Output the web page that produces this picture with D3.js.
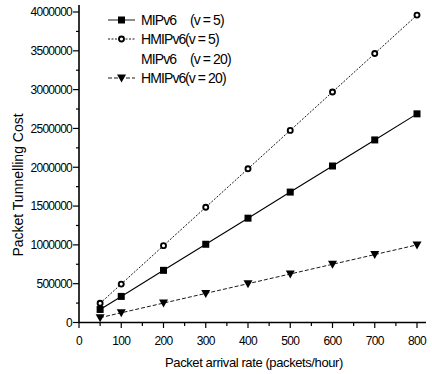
<!DOCTYPE html>
<html><head><meta charset="utf-8">
<script src="https://cdn.jsdelivr.net/npm/d3@7/dist/d3.min.js"></script>
<style>body{margin:0;background:#fff}svg{display:block;font-family:"Liberation Sans",Arial,sans-serif}</style>
</head><body><svg id="c" width="432" height="374"></svg>
<script>
const rates = [50, 100, 200, 300, 400, 500, 600, 700, 800];
const mipv6_v5 = [168000, 336000, 672000, 1008000, 1344000, 1680000, 2016000, 2352000, 2688000];
const hmipv6_v5 = [247500, 495000, 990000, 1485000, 1980000, 2475000, 2970000, 3465000, 3960000];
const hmipv6_v20 = [62500, 125000, 250000, 375000, 500000, 625000, 750000, 875000, 1000000];
const xTicks = [0, 100, 200, 300, 400, 500, 600, 700, 800];
const yTicks = [0, 500000, 1000000, 1500000, 2000000, 2500000, 3000000, 3500000, 4000000];
const legendLabels = [["MIPv6", "(v = 5)"], ["HMIPv6", "(v = 5)"], ["MIPv6", "(v = 20)"], ["HMIPv6", "(v = 20)"]];

const svg = d3.select("#c");
const x = d3.scaleLinear().domain([0, 800]).range([79, 417]);
const y = d3.scaleLinear().domain([0, 4000000]).range([322.5, 12]);

const series = [
  {vals: mipv6_v5, sym: "square", dash: null, legend: 0},
  {vals: hmipv6_v5, sym: "circle", dash: "2,1.5", legend: 1},
  {vals: hmipv6_v20, sym: "tri", dash: "4,2", legend: 3}
];

function drawSym(g, type, cx, cy) {
  if (type === "square") g.append("rect").attr("x", cx - 3.5).attr("y", cy - 3.5).attr("width", 7).attr("height", 7).attr("fill", "#000");
  else if (type === "circle") g.append("circle").attr("cx", cx).attr("cy", cy).attr("r", 2.5).attr("fill", "#fff").attr("stroke", "#000").attr("stroke-width", 1.9);
  else g.append("path").attr("d", `M${cx-4.5},${cy-3.5}L${cx+4.5},${cy-3.5}L${cx},${cy+4.5}Z`).attr("fill", "#000");
}

// axes
const ax = svg.append("g").attr("stroke", "#000");
ax.append("line").attr("x1", 79).attr("x2", 79).attr("y1", 5).attr("y2", 322.5).attr("stroke-width", 1.6);
ax.append("line").attr("x1", 79).attr("x2", 426).attr("y1", 322.5).attr("y2", 322.5).attr("stroke-width", 1.6);
d3.range(0, 4000001, 250000).forEach(v => {
  const major = v % 500000 === 0;
  ax.append("line").attr("x1", major ? 73 : 76).attr("x2", 79).attr("y1", y(v)).attr("y2", y(v)).attr("stroke-width", 1.2);
});
d3.range(0, 801, 50).forEach(v => {
  const major = v % 100 === 0;
  ax.append("line").attr("x1", x(v)).attr("x2", x(v)).attr("y1", 322.5).attr("y2", major ? 328 : 326).attr("stroke-width", 1.2);
});
svg.append("g").selectAll("text").data(yTicks).join("text")
  .attr("x", 72).attr("y", d => y(d) + 4.3).attr("text-anchor", "end")
  .attr("font-size", 12).attr("letter-spacing", -0.75).text(d => d);
svg.append("g").selectAll("text").data(xTicks).join("text")
  .attr("x", d => x(d)).attr("y", 345).attr("text-anchor", "middle")
  .attr("font-size", 12).attr("letter-spacing", -0.75).text(d => d);

svg.append("text").attr("transform", "translate(22.5,185) rotate(-90)").attr("text-anchor", "middle")
  .attr("font-size", 14).text("Packet Tunnelling Cost");
svg.append("text").attr("x", 254).attr("y", 367).attr("text-anchor", "middle")
  .attr("font-size", 13).attr("letter-spacing", -0.4).text("Packet arrival rate (packets/hour)");

const line = d3.line().x(d => x(d[0])).y(d => y(d[1]));
series.forEach(s => {
  const pts = rates.map((r, i) => [r, s.vals[i]]);
  svg.append("path").attr("d", line(pts)).attr("fill", "none").attr("stroke", "#000")
    .attr("stroke-width", s.dash ? 0.9 : 1.1).attr("stroke-dasharray", s.dash);
  const g = svg.append("g");
  pts.forEach(p => drawSym(g, s.sym, x(p[0]), y(p[1])));
});

const rowY = [20, 39, 59, 78];
legendLabels.forEach((lab, i) => {
  const s = series.find(d => d.legend === i);
  const g = svg.append("g");
  if (s) {
    g.append("line").attr("x1", 108).attr("x2", 135).attr("y1", rowY[i]).attr("y2", rowY[i])
      .attr("stroke", "#000").attr("stroke-width", 0.9).attr("stroke-dasharray", s.dash);
    drawSym(g, s.sym, 121.5, rowY[i]);
  }
  g.append("text").attr("x", 141).attr("y", rowY[i] + 5).attr("font-size", 14).attr("letter-spacing", -0.9).text(lab[0]);
  g.append("text").attr("x", lab[0] === "MIPv6" ? 190 : 185).attr("y", rowY[i] + 5).attr("font-size", 14).attr("letter-spacing", -0.9).text(lab[1]);
});
</script></body></html>
